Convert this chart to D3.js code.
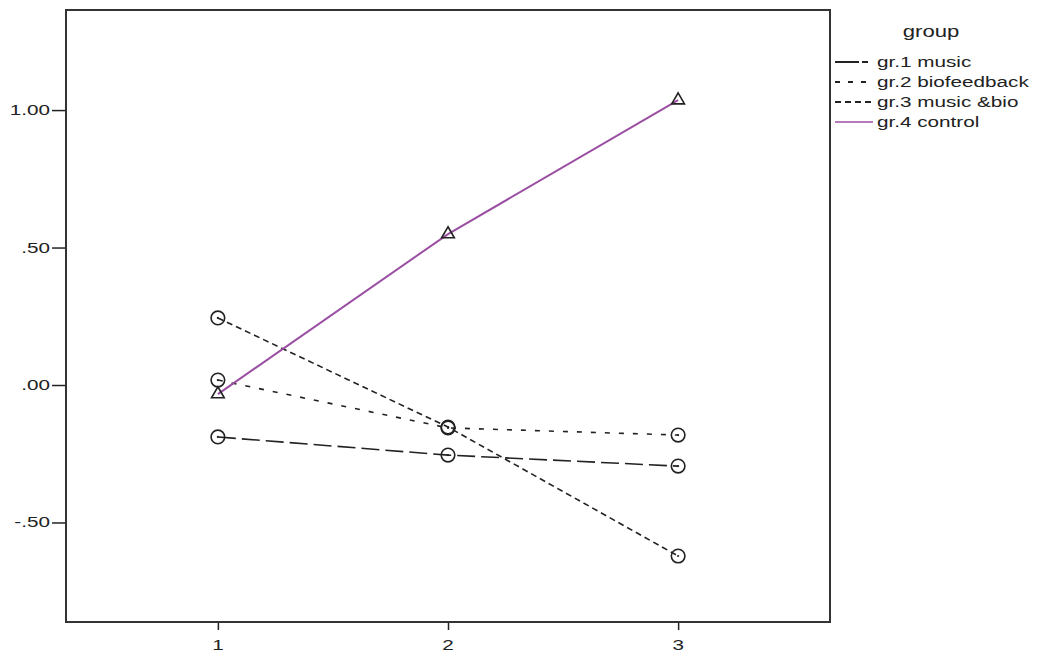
<!DOCTYPE html>
<html>
<head>
<meta charset="utf-8">
<script src="https://cdn.jsdelivr.net/npm/d3@7"></script>
<style>
  html, body { margin: 0; padding: 0; background: #fff; }
  svg { display: block; font-family: "Liberation Sans", Arial, sans-serif; }
</style>
</head>
<body>
<svg id="chart" width="1037" height="652"></svg>
<script>
// Time points on the x axis
const timePoints = [1, 2, 3];

// Estimated marginal means per group
const groupNames = ["gr.1 music", "gr.2 biofeedback", "gr.3 music &bio", "gr.4 control"];
const music       = [-0.189, -0.255, -0.295];
const biofeedback = [0.018, -0.156, -0.182];
const musicBio    = [0.244, -0.153, -0.622];
const control     = [-0.033, 0.549, 1.036];

const yTicks = [1.0, 0.5, 0.0, -0.5];
const yTickLabels = ["1.00", ".50", ".00", "-.50"];
const xTickLabels = ["1", "2", "3"];

const seriesValues = [music, biofeedback, musicBio, control];
const seriesStyle = [
  { color: "#222", dash: "18,6", marker: "circle", legendDash: "24,3,6,10" },
  { color: "#222", dash: "5,9", marker: "circle", legendDash: "5,8" },
  { color: "#222", dash: "6,4", marker: "circle", legendDash: "6,4" },
  { color: "#9b4fa3", dash: null, marker: "triangle", legendDash: null }
];

const svg = d3.select("#chart");
const plot = { left: 66, top: 10, right: 830, bottom: 622 };
const stretch = 1.38;   // wide lettering used throughout the chart

const x = d3.scaleLinear().domain([0.34, 3.66]).range([plot.left, plot.right]);
const y = d3.scaleLinear().domain([1.364, -0.862]).range([plot.top, plot.bottom]);

// Places a horizontally widened label at (px, py)
function label(g, px, py, txt, size, anchor) {
  return g.append("text")
    .attr("transform", `translate(${px},${py}) scale(${stretch},1)`)
    .attr("text-anchor", anchor)
    .attr("font-size", size)
    .attr("fill", "#222")
    .text(txt);
}

// Axes: tick lines from d3 axes, labels drawn separately
const yAxis = d3.axisLeft(y).tickValues(yTicks).tickFormat("").tickSize(14);
const gy = svg.append("g").attr("transform", `translate(${plot.left},0)`).call(yAxis);
gy.select(".domain").remove();
gy.selectAll(".tick line").attr("stroke", "#222").attr("stroke-width", 1.5);
yTicks.forEach((v, i) => label(svg, 50, y(v) + 5, yTickLabels[i], 15, "end"));

const xAxis = d3.axisBottom(x).tickValues(timePoints).tickFormat("").tickSize(8);
const gx = svg.append("g").attr("transform", `translate(0,${plot.bottom})`).call(xAxis);
gx.select(".domain").remove();
gx.selectAll(".tick line").attr("stroke", "#222").attr("stroke-width", 1.5);
timePoints.forEach((t, i) => label(svg, x(t), 650, xTickLabels[i], 15, "middle"));

// Plot frame
svg.append("rect")
  .attr("x", plot.left).attr("y", plot.top)
  .attr("width", plot.right - plot.left).attr("height", plot.bottom - plot.top)
  .attr("fill", "none").attr("stroke", "#333").attr("stroke-width", 2);

const line = d3.line().x((d, i) => x(timePoints[i])).y(d => y(d));

// Group profiles: dashed groups first, control on top
seriesValues.forEach((vals, si) => {
  const st = seriesStyle[si];
  svg.append("path")
    .datum(vals)
    .attr("d", line)
    .attr("fill", "none")
    .attr("stroke", st.color)
    .attr("stroke-width", si === 3 ? 2 : 1.6)
    .attr("stroke-dasharray", st.dash);
});

// Markers
seriesValues.forEach((vals, si) => {
  const st = seriesStyle[si];
  const g = svg.append("g");
  vals.forEach((v, i) => {
    const cx = x(timePoints[i]), cy = y(v);
    if (st.marker === "circle") {
      g.append("circle").attr("cx", cx).attr("cy", cy).attr("r", 6.8)
        .attr("fill", "none").attr("stroke", "#222").attr("stroke-width", 1.6);
      g.append("circle").attr("cx", cx).attr("cy", cy).attr("r", 1.1).attr("fill", "#222");
    } else {
      const tri = d3.symbol().type(d3.symbolTriangle).size(70);
      g.append("path").attr("d", tri())
        .attr("transform", `translate(${cx},${cy})`)
        .attr("fill", "none").attr("stroke", "#222").attr("stroke-width", 1.6);
    }
  });
});

// Legend
const legend = svg.append("g");
label(legend, 931, 37, "group", 16, "middle");
const legendY = [62, 82, 102, 122];
groupNames.forEach((name, i) => {
  const st = seriesStyle[i];
  legend.append("line")
    .attr("x1", 835).attr("x2", 873).attr("y1", legendY[i]).attr("y2", legendY[i])
    .attr("stroke", st.color).attr("stroke-width", i === 3 ? 1.6 : 2)
    .attr("stroke-dasharray", st.legendDash);
  label(legend, 877, legendY[i] + 5, name, 15, "start");
});
</script>
</body>
</html>
